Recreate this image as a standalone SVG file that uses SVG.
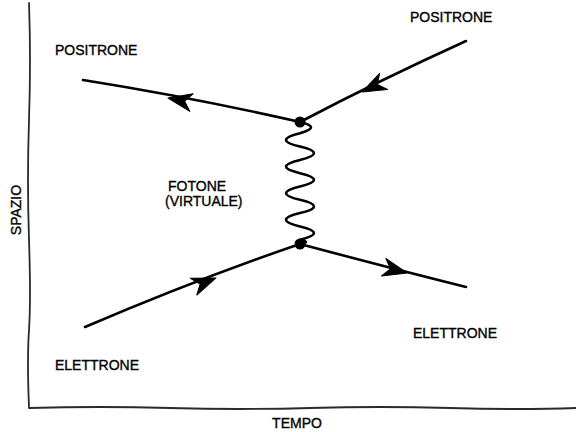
<svg xmlns="http://www.w3.org/2000/svg" width="576" height="432" viewBox="0 0 576 432">
<style>
.ax{fill:none;stroke:#2a2a2a;stroke-width:1.8;stroke-linecap:round}
.ln{fill:none;stroke:#000;stroke-width:2.6;stroke-linecap:round;stroke-linejoin:round}
.t{font-family:"Liberation Sans","DejaVu Sans",sans-serif;font-size:14px;fill:#000;stroke:#000;stroke-width:0.35}
</style>
<defs>
<path id="ah" d="M0,0 L-24,-9 L-17,0 L-24,9 Z" fill="#000" stroke="#000" stroke-width="1" stroke-linejoin="round"/>
</defs>
<rect width="576" height="432" fill="#fff"/>
<g id="axes">
<path class="ax" d="M29,3 Q31,60 29,120 T29,240 T29,330 T29,407"/>
<path class="ax" d="M29,408 Q100,406 170,408 T310,408 T450,408 T576,408"/>
</g>
<g id="connectors">
<path class="ln" d="M83,80 Q190,97 300,122"/>
<path class="ln" d="M466,41 Q380,80 300,122"/>
<path class="ln" d="M85,327 Q200,278 300,244"/>
<path class="ln" d="M300,244 Q390,268 466,287"/>
<path class="ln" d="M300,122 Q322,127 300,133.3 Q272,140 300,146.6 T300,159.9 T300,173.2 T300,186.5 T300,199.8 T300,213.1 T300,226.4 T300,239.7 Q312,242 300,244"/>
<use href="#ah" transform="translate(168,98) rotate(191)"/>
<use href="#ah" transform="translate(362,92) rotate(154)"/>
<use href="#ah" transform="translate(216,278) rotate(-21)"/>
<use href="#ah" transform="translate(407,273) rotate(14)"/>
</g>
<g id="v1"><circle cx="300" cy="122" r="5.5" fill="#000"/></g>
<g id="v2"><circle cx="300" cy="244" r="5.5" fill="#000"/></g>
<g id="labels">
<text class="t" x="55" y="55">POSITRONE</text>
<text class="t" x="410" y="22">POSITRONE</text>
<text class="t" x="55" y="370">ELETTRONE</text>
<text class="t" x="413" y="338">ELETTRONE</text>
<text class="t" x="168" y="191">FOTONE</text>
<text class="t" x="165" y="206">(VIRTUALE)</text>
<text class="t" x="297" y="428" text-anchor="middle">TEMPO</text>
<text class="t" transform="translate(21,210) rotate(-90)" text-anchor="middle">SPAZIO</text>
</g>
</svg>
